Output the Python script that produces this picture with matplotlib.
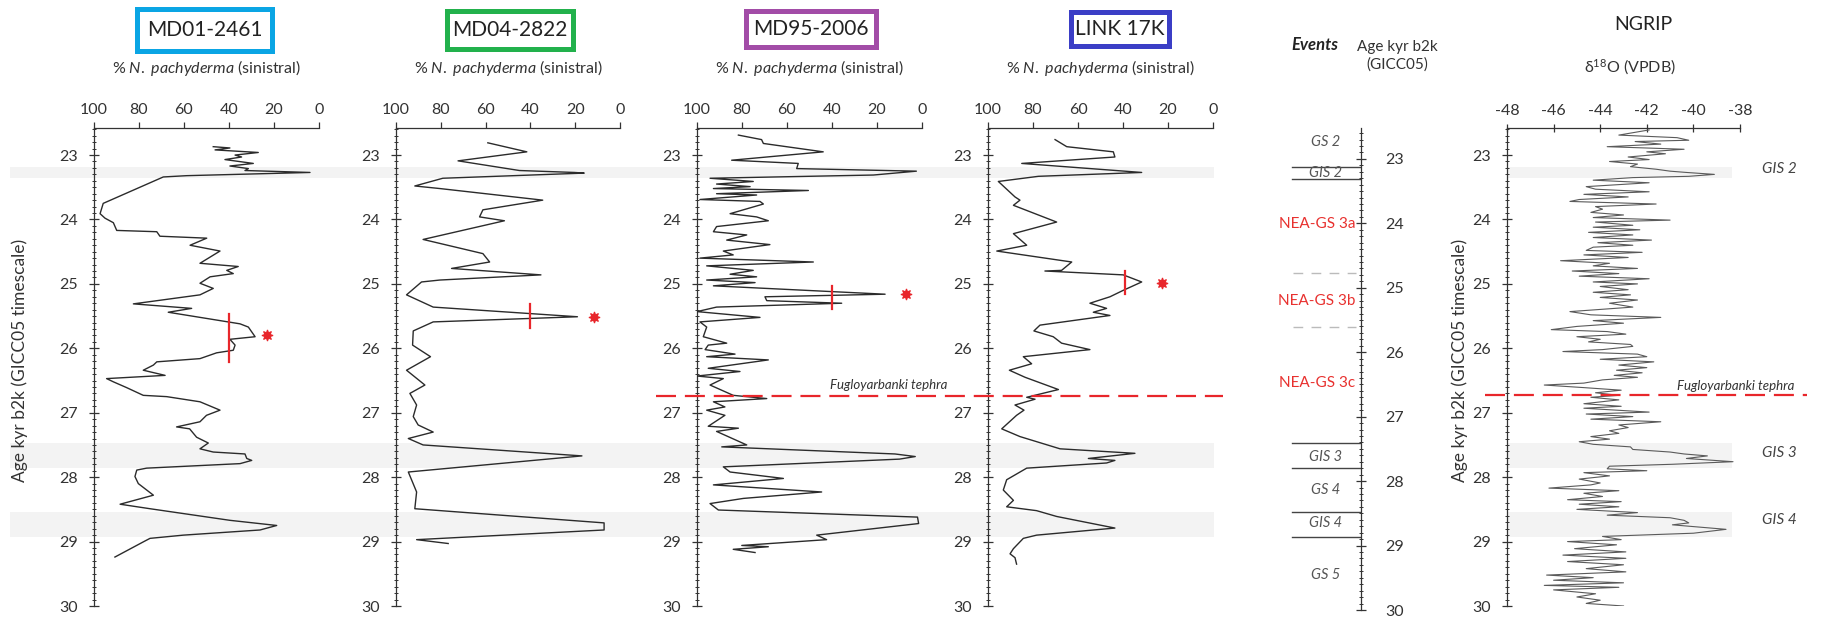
import matplotlib
matplotlib.use("Agg")
import matplotlib.pyplot as plt
from matplotlib.patches import Rectangle
from matplotlib.lines import Line2D
from matplotlib.ticker import MultipleLocator
from matplotlib import transforms

plt.rcParams["font.family"] = ["Lato", "DejaVu Sans"]
plt.rcParams["mathtext.fontset"] = "custom"
plt.rcParams["mathtext.rm"] = "Lato"
plt.rcParams["mathtext.it"] = "Lato:italic"
plt.rcParams["axes.unicode_minus"] = False

# ---------------------------------------------------------------- data
md01_age = [22.87, 22.89, 22.92, 22.96, 23.00, 23.03, 23.07, 23.13, 23.17, 23.21, 23.24, 23.27, 23.32, 23.34,
            23.75, 23.91, 23.98, 24.05, 24.17, 24.19, 24.26, 24.29, 24.40, 24.49, 24.68, 24.73, 24.79, 24.84,
            24.89, 24.99, 25.07, 25.17, 25.31, 25.38, 25.44, 25.62, 25.67, 25.82, 25.86, 25.95, 26.03, 26.07,
            26.16, 26.21, 26.26, 26.34, 26.42, 26.47, 26.52, 26.61, 26.73, 26.75, 26.83, 26.96, 27.04, 27.14,
            27.22, 27.25, 27.38, 27.47, 27.56, 27.61, 27.64, 27.71, 27.74, 27.79, 27.86, 27.89, 27.99, 28.10,
            28.28, 28.42, 28.49, 28.67, 28.75, 28.82, 28.90, 28.95, 28.99, 29.24]
md01_val = [47.0, 39.6, 46.2, 27.0, 37.3, 34.4, 41.8, 29.2, 39.6, 31.4, 32.9, 4.0, 58.8, 69.2,
            95.9, 97.3, 95.1, 91.4, 89.9, 72.1, 70.7, 49.9, 57.3, 44.0, 52.9, 35.9, 41.0, 38.1,
            48.4, 52.9, 47.0, 52.9, 82.5, 56.6, 67.0, 35.1, 31.4, 28.4, 39.6, 37.3, 38.1, 45.5,
            52.9, 72.1, 73.6, 78.1, 68.4, 94.4, 91.4, 85.5, 78.1, 67.7, 52.9, 44.0, 50.0, 52.9,
            63.3, 57.5, 54.4, 49.2, 52.9, 47.0, 32.9, 32.1, 29.9, 35.1, 76.6, 81.0, 81.8, 80.3,
            73.6, 88.4, 75.1, 39.6, 18.8, 26.2, 60.3, 75.1, 77.3, 90.7]

md04_age = [22.81, 22.95, 23.09, 23.24, 23.27, 23.28, 23.36, 23.48, 23.52, 23.70, 23.85, 23.96, 24.02,
            24.31, 24.53, 24.66, 24.76, 24.86, 24.94, 24.97, 25.17, 25.36, 25.51, 25.59, 25.73, 25.95,
            26.13, 26.34, 26.57, 26.70, 26.88, 27.06, 27.19, 27.30, 27.40, 27.50, 27.67, 27.92, 28.23,
            28.49, 28.71, 28.82, 28.97, 29.03]
md04_val = [59.0, 41.6, 72.3, 44.9, 20.4, 16.0, 79.1, 91.6, 80.4, 34.5, 61.2, 62.7, 51.6,
            87.9, 61.2, 58.2, 75.2, 35.3, 80.4, 88.6, 95.3, 83.4, 19.0, 83.4, 92.3, 92.6,
            84.6, 95.3, 87.1, 93.8, 90.8, 92.3, 90.1, 83.4, 94.5, 87.9, 17.0, 94.5, 90.8,
            91.6, 7.1, 7.1, 90.8, 76.7]

md95_age = [22.69, 22.76, 22.82, 22.95, 23.08, 23.13, 23.21, 23.25, 23.31, 23.36, 23.41, 23.45, 23.49,
            23.52, 23.55, 23.60, 23.62, 23.69, 23.72, 23.76, 23.91, 23.96, 24.02, 24.11, 24.19, 24.24,
            24.32, 24.39, 24.49, 24.55, 24.60, 24.66, 24.72, 24.79, 24.85, 24.89, 24.94, 24.98, 25.03,
            25.16, 25.20, 25.26, 25.30, 25.36, 25.43, 25.52, 25.59, 25.67, 25.82, 25.92, 25.95, 26.02,
            26.09, 26.13, 26.18, 26.31, 26.36, 26.43, 26.47, 26.57, 26.73, 26.78, 26.83, 26.91, 26.96,
            27.04, 27.21, 27.24, 27.29, 27.50, 27.53, 27.64, 27.68, 27.72, 27.84, 27.92, 28.02, 28.12,
            28.23, 28.33, 28.41, 28.51, 28.62, 28.72, 28.90, 28.97, 29.06, 29.08, 29.12, 29.17]
md95_val = [81.6, 71.3, 70.5, 43.9, 84.6, 55.0, 55.7, 2.5, 21.6, 94.2, 75.0, 91.3, 76.4,
            92.7, 50.5, 91.3, 73.5, 98.7, 72.0, 70.5, 85.3, 73.5, 68.3, 91.3, 92.7, 77.9,
            86.8, 67.6, 88.3, 83.9, 98.7, 48.3, 95.7, 75.0, 85.3, 73.5, 95.7, 74.2, 92.7,
            16.4, 69.8, 69.0, 35.7, 91.3, 100.0, 72.0, 98.7, 95.7, 97.2, 86.8, 95.0, 96.4,
            83.1, 95.7, 68.3, 95.0, 80.9, 100.0, 88.3, 94.2, 83.9, 69.0, 92.7, 87.6, 95.7,
            87.6, 95.0, 81.6, 91.3, 77.9, 89.0, 12.0, 3.0, 10.0, 88.3, 85.3, 61.6, 92.7,
            44.6, 79.4, 94.2, 90.5, 2.0, 1.5, 46.8, 42.4, 80.1, 68.3, 83.9, 74.2]

link_age = [22.76, 22.87, 22.95, 23.03, 23.13, 23.27, 23.33, 23.41, 23.65, 23.70, 23.78, 24.04, 24.22,
            24.40, 24.49, 24.66, 24.79, 24.80, 24.86, 24.97, 25.10, 25.20, 25.30, 25.38, 25.44, 25.49,
            25.64, 25.73, 25.82, 25.92, 26.02, 26.13, 26.24, 26.34, 26.45, 26.64, 26.76, 26.79, 26.88,
            26.96, 27.04, 27.25, 27.37, 27.56, 27.63, 27.71, 27.74, 27.78, 27.86, 28.04, 28.20, 28.36,
            28.46, 28.52, 28.61, 28.79, 28.90, 28.95, 29.11, 29.19, 29.25, 29.35]
link_val = [70.2, 65.0, 44.3, 43.6, 85.0, 31.7, 77.6, 95.4, 88.0, 85.8, 88.7, 69.5, 88.7,
            82.8, 96.1, 62.8, 67.3, 74.7, 39.9, 31.7, 39.9, 45.8, 54.7, 47.3, 53.2, 45.8,
            76.9, 79.6, 71.0, 67.3, 54.7, 84.3, 80.6, 90.5, 83.5, 68.7, 82.8, 79.1, 88.0,
            84.0, 87.3, 93.9, 85.8, 68.0, 34.7, 55.4, 43.6, 47.3, 82.8, 91.7, 93.2, 88.7,
            91.7, 78.4, 69.5, 43.6, 78.4, 84.3, 88.7, 90.2, 88.0, 87.3]

ngrip_age = [22.61, 22.69, 22.73, 22.77, 22.79, 22.83, 22.87, 22.91, 22.95, 22.98, 23.03, 23.07, 23.10,
             23.14, 23.18, 23.22, 23.25, 23.27, 23.30, 23.33, 23.35, 23.39, 23.43, 23.49, 23.53, 23.57,
             23.61, 23.65, 23.69, 23.72, 23.76, 23.80, 23.84, 23.89, 23.93, 23.97, 24.01, 24.04, 24.09,
             24.12, 24.16, 24.20, 24.24, 24.28, 24.32, 24.36, 24.40, 24.43, 24.48, 24.51, 24.55, 24.59,
             24.64, 24.68, 24.72, 24.76, 24.80, 24.84, 24.88, 24.92, 24.97, 25.00, 25.04, 25.09, 25.13,
             25.17, 25.21, 25.25, 25.30, 25.36, 25.43, 25.48, 25.52, 25.57, 25.61, 25.66, 25.71, 25.74,
             25.78, 25.82, 25.86, 25.90, 25.94, 25.97, 26.02, 26.05, 26.09, 26.13, 26.17, 26.21, 26.26,
             26.30, 26.34, 26.38, 26.42, 26.45, 26.49, 26.54, 26.57, 26.61, 26.65, 26.69, 26.73, 26.76,
             26.80, 26.86, 26.90, 26.93, 26.99, 27.02, 27.06, 27.10, 27.14, 27.19, 27.23, 27.28, 27.32,
             27.37, 27.41, 27.45, 27.49, 27.53, 27.57, 27.61, 27.64, 27.67, 27.71, 27.76, 27.80, 27.83,
             27.87, 27.90, 27.93, 27.98, 28.03, 28.09, 28.12, 28.17, 28.21, 28.25, 28.30, 28.35, 28.38,
             28.42, 28.46, 28.50, 28.55, 28.59, 28.63, 28.67, 28.71, 28.74, 28.81, 28.87, 28.92, 28.97,
             29.00, 29.05, 29.11, 29.16, 29.21, 29.26, 29.31, 29.36, 29.42, 29.47, 29.52, 29.56, 29.60,
             29.64, 29.68, 29.71, 29.75, 29.81, 29.86, 29.91, 29.96, 30.00]
ngrip_d18o = [-41.9, -43.2, -40.7, -40.2, -42.5, -41.4, -43.7, -40.4, -42.0, -41.2, -42.8, -41.9, -43.6,
              -42.4, -42.7, -41.6, -41.0, -40.3, -39.1, -40.2, -42.6, -44.3, -41.9, -44.6, -44.2, -41.9,
              -44.7, -42.8, -44.9, -45.3, -41.6, -44.2, -43.9, -44.4, -43.0, -44.3, -41.0, -44.2, -42.6,
              -44.3, -42.3, -44.5, -42.6, -44.3, -41.8, -44.1, -42.6, -44.3, -44.6, -42.2, -44.7, -42.8,
              -45.7, -43.6, -44.3, -42.4, -45.2, -43.2, -44.9, -41.9, -44.3, -42.4, -44.0, -42.8, -44.3,
              -42.7, -44.0, -42.4, -43.6, -42.6, -45.3, -44.4, -41.4, -44.3, -43.0, -45.0, -46.1, -43.7,
              -42.9, -45.0, -44.0, -44.5, -42.7, -42.6, -43.9, -45.6, -42.4, -42.0, -44.0, -41.7, -43.2,
              -42.0, -43.3, -42.2, -43.4, -42.4, -43.9, -44.7, -46.4, -44.7, -43.1, -44.2, -43.2, -44.4,
              -43.2, -44.7, -43.1, -44.7, -41.9, -44.6, -42.6, -44.4, -41.4, -43.2, -42.8, -43.6, -43.2,
              -44.4, -43.6, -44.9, -44.3, -42.7, -42.6, -41.0, -40.4, -39.4, -40.3, -38.3, -40.9, -43.6,
              -43.7, -42.0, -44.7, -43.6, -44.9, -44.0, -44.4, -46.2, -43.2, -44.7, -43.9, -45.4, -43.1,
              -44.9, -43.2, -45.0, -42.4, -43.7, -41.0, -40.4, -40.2, -40.9, -38.6, -40.0, -43.9, -43.1,
              -45.4, -43.3, -45.1, -42.9, -45.6, -42.9, -45.4, -43.0, -44.6, -42.9, -46.3, -44.3, -46.0,
              -43.0, -46.4, -43.2, -46.0, -44.2, -45.0, -44.0, -44.6, -43.0]

core_names = ["MD01-2461", "MD04-2822", "MD95-2006", "LINK 17K"]
core_colors = ["#0AA5E4", "#22B14C", "#A24CA7", "#3B3EC6"]
core_ages = [md01_age, md04_age, md95_age, link_age]
core_vals = [md01_val, md04_val, md95_val, link_val]

# red age markers: (value, age top, age bottom), star (value, age)
marker_bars = [(40, 25.47, 26.21), (40, 25.31, 25.69), (40, 25.03, 25.39), (39, 24.80, 25.16)]
marker_stars = [(23, 25.80), (11.5, 25.51), (7, 25.16), (22.7, 24.98)]

gis_bands = [(23.19, 23.36), (27.47, 27.86), (28.54, 28.93)]
tephra_age = 26.74

event_lines = [23.12, 23.31, 27.41, 27.80, 28.48, 28.87]
event_dashed = [24.77, 25.61]
event_labels = [("GS 2", 22.74, "grey"), ("GIS 2", 23.22, "grey"), ("NEA-GS 3a", 24.01, "red"),
                ("NEA-GS 3b", 25.20, "red"), ("NEA-GS 3c", 26.48, "red"), ("GIS 3", 27.63, "grey"),
                ("GS 4", 28.14, "grey"), ("GIS 4", 28.65, "grey"), ("GS 5", 29.46, "grey")]
ngrip_gis_labels = [("GIS 2", 23.22), ("GIS 3", 27.63), ("GIS 4", 28.67)]

# ---------------------------------------------------------------- layout
W, H = 1840, 619
RED = "#E8262B"
INK = "#333333"

fig = plt.figure(figsize=(W / 100, H / 100), dpi=100)


def px_rect(x0, y0, x1, y1):
    return [x0 / W, 1 - y1 / H, (x1 - x0) / W, (y1 - y0) / H]


def style_age_axis(ax):
    ax.yaxis.set_major_locator(MultipleLocator(1))
    ax.yaxis.set_minor_locator(MultipleLocator(0.1))
    ax.tick_params(axis="y", which="major", direction="inout", length=7, width=0.9,
                   color=INK, labelsize=11.5, labelcolor=INK, pad=8)
    ax.tick_params(axis="y", which="minor", direction="inout", length=3, width=0.7, color=INK)
    for s in ax.spines.values():
        s.set_color(INK)
        s.set_linewidth(0.9)


panel_x = [(94, 319), (396, 620), (697, 922), (988, 1213)]
axes = []
for i, (x0, x1) in enumerate(panel_x):
    ax = fig.add_axes(px_rect(x0, 128, x1, 606))
    ax.set_facecolor("none")
    ax.set_xlim(100, 0)
    ax.set_ylim(30, 22.58)
    ax.spines["right"].set_visible(False)
    ax.spines["bottom"].set_visible(False)
    ax.xaxis.tick_top()
    ax.xaxis.set_major_locator(MultipleLocator(20))
    ax.tick_params(axis="x", direction="out", length=4, width=0.9, color=INK,
                   labelsize=11.5, labelcolor=INK, pad=4)
    style_age_axis(ax)
    ax.plot(core_vals[i], core_ages[i], color="#2b2b2b", lw=1.0, zorder=3)
    v, a0, a1 = marker_bars[i]
    ax.plot([v, v], [a0, a1], color=RED, lw=1.6, zorder=4)
    sv, sa = marker_stars[i]
    ax.plot([sv], [sa], marker=(8, 1, 0), ms=8, mew=0.8, color=RED, zorder=4)
    axes.append(ax)

    # boxed core name
    bx0, by0, bx1, by1 = [(137, 9, 272, 51), (447, 11, 573, 49), (746, 11, 876, 47),
                          (1071, 12, 1169, 46)][i]
    fig.add_artist(Rectangle((bx0 / W, 1 - by1 / H), (bx1 - bx0) / W, (by1 - by0) / H,
                             transform=fig.transFigure, fill=False,
                             ec=core_colors[i], lw=3.6))
    fig.text((bx0 + bx1) / 2 / W, 1 - (by0 + by1) / 2 / H, core_names[i], ha="center",
             va="center", fontsize=15, color="#222222")
    fig.text((x0 + x1) / 2 / W, 1 - 68 / H, r"% $\mathit{N.\ pachyderma}$ (sinistral)",
             ha="center", va="center", fontsize=11.5, color=INK)

# events column
ev = fig.add_axes(px_rect(1290, 128, 1361, 610))
ev.set_facecolor("none")
ev.set_xlim(0, 1)
ev.set_ylim(30, 22.52)
for side in ["left", "top", "bottom"]:
    ev.spines[side].set_visible(False)
ev.set_xticks([])
ev.yaxis.tick_right()
style_age_axis(ev)
ev.tick_params(axis="y", which="major", pad=14)
for a in event_lines:
    ev.plot([0.03, 1.0], [a, a], color="#444444", lw=1.0)
for a in event_dashed:
    ev.plot([0.04, 0.93], [a, a], color="#BBBBBB", lw=1.0, dashes=(7, 6))
for name, a, kind in event_labels:
    if kind == "red":
        ev.text(0.92, a, name, ha="right", va="center", fontsize=11, color="#E8312F")
    else:
        ev.text(0.50, a, name, ha="center", va="center", fontsize=10.5, color="#555555",
                style="italic")
fig.text(1315 / W, 1 - 45 / H, "Events", ha="center", va="center", fontsize=12,
         fontweight="bold", style="italic", color="#222222")
fig.text(1397 / W, 1 - 56 / H, "Age kyr b2k\n(GICC05)", ha="center", va="center",
         fontsize=11, color=INK, linespacing=1.25)

# NGRIP panel
ng = fig.add_axes(px_rect(1507, 128, 1740, 606))
ng.set_facecolor("none")
ng.set_xlim(-48, -38)
ng.set_ylim(30, 22.58)
ng.spines["right"].set_visible(False)
ng.spines["bottom"].set_visible(False)
ng.xaxis.tick_top()
ng.xaxis.set_major_locator(MultipleLocator(2))
ng.tick_params(axis="x", direction="inout", length=6, width=0.9, color=INK,
               labelsize=11.5, labelcolor=INK, pad=4)
style_age_axis(ng)
ng.plot(ngrip_d18o, ngrip_age, color="#5a5a5a", lw=0.8, zorder=3)
for name, a in ngrip_gis_labels:
    ng.text(1.17, a, name, transform=ng.get_yaxis_transform(), ha="center", va="center",
            fontsize=11, style="italic", color="#444444")
fig.text(1643 / W, 1 - 24 / H, "NGRIP", ha="center", va="center", fontsize=14, color="#222222")
fig.text(1630 / W, 1 - 67 / H, "δ$^{18}$O (VPDB)", ha="center", va="center", fontsize=11.5,
         color=INK)

# y labels
for xl in [20, 1460]:
    fig.text(xl / W, 1 - 360 / H, "Age kyr b2k (GICC05 timescale)", rotation=90,
             ha="center", va="center", fontsize=12.5, color=INK)

# GIS bands and tephra line drawn across panels (figure x, data y)
tr = transforms.blended_transform_factory(fig.transFigure, axes[0].transData)
for a0, a1 in gis_bands:
    fig.add_artist(Rectangle((10 / W, a0), (1214 - 10) / W, a1 - a0, transform=tr,
                             color="#F3F3F3", lw=0, zorder=-1))
    fig.add_artist(Rectangle((1507 / W, a0), (1732 - 1507) / W, a1 - a0, transform=tr,
                             color="#F3F3F3", lw=0, zorder=-1))

for xa, xb, a in [(656, 1223, tephra_age), (1485, 1807, tephra_age - 0.02)]:
    ln = Line2D([xa / W, xb / W], [a, a], transform=tr, color=RED, lw=1.6, zorder=5)
    ln.set_dashes((9, 4))
    fig.add_artist(ln)
fig.text(830 / W, 1 - 385 / H, "Fugloyarbanki tephra", ha="left", va="center",
         fontsize=9.5, style="italic", color="#333333")
fig.text(1677 / W, 1 - 386 / H, "Fugloyarbanki tephra", ha="left", va="center",
         fontsize=9.5, style="italic", color="#333333")

fig.savefig("out.png", dpi=100)
